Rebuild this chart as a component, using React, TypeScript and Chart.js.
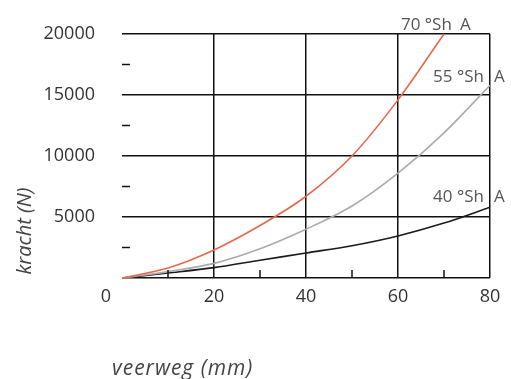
import React, { useEffect, useRef } from "react";
import { Chart, registerables } from "chart.js";

Chart.register(...registerables);

const xValues = [0, 10, 20, 30, 40, 50, 60, 70, 80];
const shore70 = [0, 820, 2300, 4300, 6700, 10000, 14600, 20000];
const shore55 = [0, 520, 1200, 2400, 4000, 5900, 8600, 11900, 15800];
const shore40 = [0, 410, 850, 1450, 2050, 2650, 3450, 4500, 5800];
const seriesNames = ["70 °Sh", "55 °Sh", "40 °Sh"];
const xTitle = "veerweg (mm)";
const yTitle = "kracht (N)";

const FONT = "'Open Sans', 'DejaVu Sans', sans-serif";

const toPoints = (vals: number[]) => vals.map((v, i) => ({ x: xValues[i], y: v }));

const decorPlugin = {
  id: "decor",
  afterDraw(chart: any) {
    const { ctx, scales } = chart;
    const xs = scales.x;
    const ys = scales.y;
    const x0 = xs.getPixelForValue(0);
    const y0 = ys.getPixelForValue(0);
    ctx.save();
    // minor ticks
    ctx.strokeStyle = "#111";
    ctx.lineWidth = 1.5;
    [2500, 7500, 12500, 17500].forEach((v) => {
      const y = ys.getPixelForValue(v);
      ctx.beginPath();
      ctx.moveTo(x0, y);
      ctx.lineTo(x0 + 8, y);
      ctx.stroke();
    });
    [10, 30, 50, 70].forEach((v) => {
      const x = xs.getPixelForValue(v);
      ctx.beginPath();
      ctx.moveTo(x, y0);
      ctx.lineTo(x, y0 - 8);
      ctx.stroke();
    });
    // origin label
    ctx.fillStyle = "#333";
    ctx.font = `18px ${FONT}`;
    ctx.textAlign = "center";
    ctx.textBaseline = "middle";
    ctx.fillText("0", x0 - 16, y0 + 19);
    // series labels
    ctx.fillStyle = "#555";
    ctx.font = `17px ${FONT}`;
    ctx.textBaseline = "alphabetic";
    const x80 = xs.getPixelForValue(80);
    const labels = [
      { name: seriesNames[0], right: xs.getPixelForValue(71.7), aLeft: xs.getPixelForValue(73.5), y: ys.getPixelForValue(20000) - 4 },
      { name: seriesNames[1], right: x80 - 6, aLeft: x80 + 4, y: ys.getPixelForValue(16050) },
      { name: seriesNames[2], right: x80 - 6, aLeft: x80 + 4, y: ys.getPixelForValue(6230) },
    ];
    labels.forEach((l) => {
      ctx.textAlign = "right";
      ctx.fillText(l.name, l.right, l.y);
      ctx.textAlign = "left";
      ctx.fillText("A", l.aLeft, l.y);
    });
    // axis titles
    ctx.fillStyle = "#444";
    ctx.font = `italic 21px ${FONT}`;
    ctx.textAlign = "left";
    ctx.textBaseline = "middle";
    try { (ctx as any).letterSpacing = "1px"; } catch (e) {}
    ctx.fillText(xTitle, 112, 369);
    try { (ctx as any).letterSpacing = "0px"; } catch (e) {}
    ctx.font = `italic 20px ${FONT}`;
    ctx.translate(25, 231);
    ctx.rotate(-Math.PI / 2);
    ctx.textAlign = "center";
    ctx.fillText(yTitle, 0, 0);
    ctx.restore();
  },
};

export default function App() {
  const canvasRef = useRef<HTMLCanvasElement | null>(null);

  useEffect(() => {
    if (!canvasRef.current) return;
    const chart = new Chart(canvasRef.current, {
      type: "line",
      data: {
        datasets: [
          { label: seriesNames[0], data: toPoints(shore70), borderColor: "#e5684b", borderWidth: 1.6, pointRadius: 0, cubicInterpolationMode: "monotone", clip: false as any },
          { label: seriesNames[1], data: toPoints(shore55), borderColor: "#ababab", borderWidth: 1.6, pointRadius: 0, cubicInterpolationMode: "monotone" },
          { label: seriesNames[2], data: toPoints(shore40), borderColor: "#1a1a1a", borderWidth: 1.6, pointRadius: 0, cubicInterpolationMode: "monotone" },
        ],
      },
      options: {
        animation: false,
        responsive: true,
        maintainAspectRatio: false,
        layout: { padding: { top: 34, right: 21, left: 0, bottom: 0 } },
        plugins: { legend: { display: false }, tooltip: { enabled: false } },
        scales: {
          x: {
            type: "linear",
            min: 0,
            max: 80,
            afterFit: (s: any) => { s.height = 101; },
            border: { display: false },
            grid: {
              drawTicks: false,
              lineWidth: 1.5,
              color: (c: any) => (c.tick && c.tick.value % 20 === 0 && c.tick.value !== 0 ? "#111" : "transparent"),
            },
            ticks: {
              stepSize: 10,
              padding: 8,
              color: "#333",
              font: { family: FONT, size: 18 },
              maxRotation: 0,
              autoSkip: false,
              callback: (v: any) => (v % 20 === 0 && v !== 0 ? String(v) : ""),
            },
          },
          y: {
            type: "linear",
            min: 0,
            max: 20000,
            afterFit: (s: any) => { s.width = 122; },
            border: { display: false },
            grid: {
              drawTicks: true,
              tickLength: 27,
              tickColor: "transparent",
              lineWidth: 1.5,
              color: (c: any) => (c.tick && c.tick.value % 5000 === 0 ? "#111" : "transparent"),
            },
            ticks: {
              stepSize: 2500,
              padding: 0,
              color: "#333",
              font: { family: FONT, size: 18 },
              autoSkip: false,
              callback: (v: any) => (v % 5000 === 0 && v !== 0 ? String(v) : ""),
            },
          },
        },
      },
      plugins: [decorPlugin],
    });
    return () => chart.destroy();
  }, []);

  return (
    <div style={{ position: "fixed", left: 0, top: 0, width: 511, height: 379, background: "#fff" }}>
      <canvas ref={canvasRef} />
    </div>
  );
}
